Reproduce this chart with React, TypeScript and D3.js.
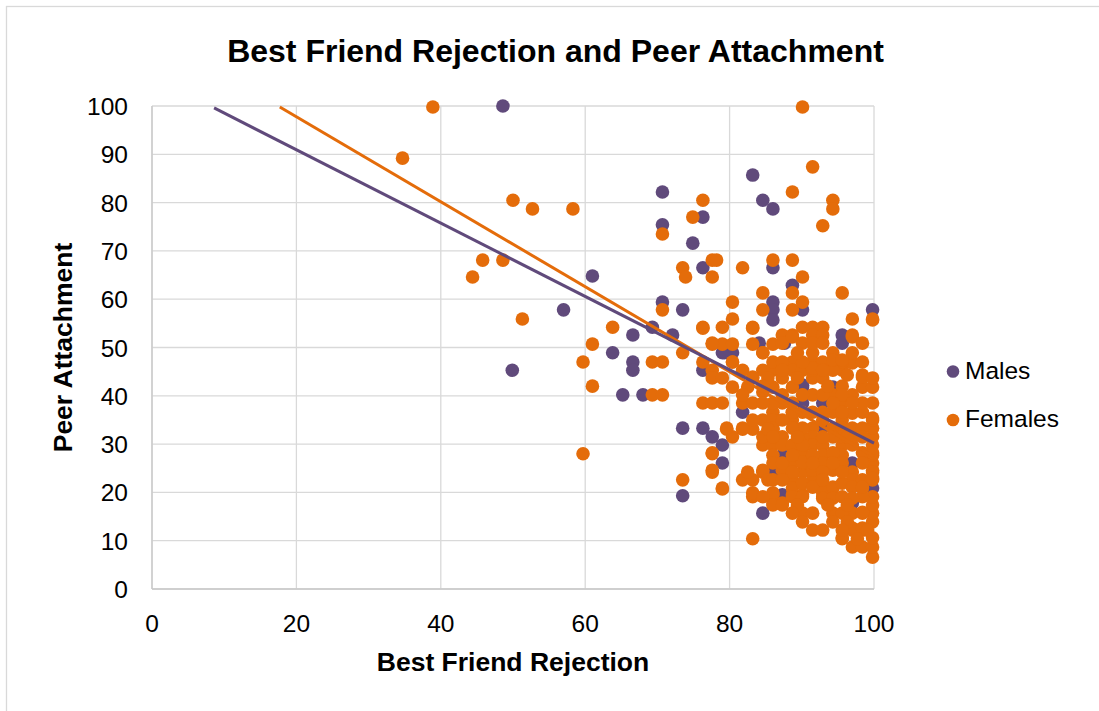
import * as d3 from "d3";

// points (Best Friend Rejection, Peer Attachment)
const males: [number, number][] = [
  [48.6, 100], [49.9, 45.3], [61, 64.8], [57, 57.8], [70.7, 82.2], [70.7, 75.4],
  [76.3, 77], [74.9, 71.6], [76.3, 66.5], [83.2, 85.7], [84.6, 80.5], [86, 78.7],
  [86, 66.5], [88.7, 62.9], [86, 59.4], [86, 57.8], [86, 55.7], [90.1, 57.8],
  [99.8, 57.8], [70.7, 59.4], [73.5, 57.8], [69.3, 54.2], [66.6, 52.6], [72.1, 52.6],
  [95.6, 52.6], [63.8, 48.9], [66.6, 47], [66.6, 45.3], [65.2, 40.2], [68, 40.2],
  [79, 48.9], [80.4, 48.9], [84.1, 50.9], [76.3, 45.3], [73.5, 33.3], [76.3, 33.3],
  [77.6, 31.5], [79, 29.8], [79, 26.1], [73.5, 19.3], [81.8, 36.6], [84.6, 15.7],
  [87.3, 19.5], [97, 17.8], [95.6, 50.9], [90.1, 42.2], [92.9, 38.5], [90.1, 38.5],
  [92.9, 33.5], [97, 26.1], [99.8, 20.9], [87.3, 27.7], [86, 24], [87.6, 50.9],
  [94.3, 41.8], [90.1, 41.8], [79.3, 48.9],
];

const females: [number, number][] = [
  [38.9, 99.8], [34.7, 89.2], [50, 80.5], [52.7, 78.7], [45.8, 68.1], [48.6, 68.1],
  [44.4, 64.6], [51.3, 55.9], [58.3, 78.7], [59.7, 28], [90.1, 99.8], [91.5, 87.4],
  [88.7, 82.2], [94.3, 80.5], [94.3, 78.7], [92.9, 75.2], [76.3, 80.5], [74.9, 77],
  [70.7, 73.5], [77.6, 68.1], [78.2, 68.1], [81.8, 66.5], [73.5, 66.5], [73.9, 64.6],
  [77.6, 64.6], [86, 68.1], [88.7, 68.1], [90.1, 64.6], [84.6, 61.3], [88.7, 61.3],
  [95.6, 61.3], [80.4, 59.4], [84.6, 57.8], [88.7, 57.8], [90.1, 59.4], [70.7, 57.8],
  [80.4, 55.9], [99.8, 55.9], [97, 55.9], [63.8, 54.2], [76.3, 54.2], [79, 54.2],
  [83.2, 54.2], [87.3, 52.6], [88.7, 52.6], [90.1, 54.2], [91.5, 54.2], [92.9, 54.2],
  [97, 52.6], [91.5, 52.6], [92.9, 52.6], [61, 50.7], [59.7, 47], [61, 42],
  [69.3, 47], [70.7, 47], [69.3, 40.2], [70.7, 40.2], [73.5, 48.9], [76.3, 47],
  [77.6, 50.7], [79, 50.7], [80.4, 50.7], [80.4, 47], [77.6, 45.3], [77.6, 43.7],
  [79, 43.7], [80.4, 41.8], [76.3, 38.5], [77.6, 38.5], [79, 38.5], [81.8, 38.5],
  [83.2, 38.5], [83.2, 43.7], [83.2, 50.7], [84.6, 48.9], [86, 50.7], [86, 45.3],
  [84.6, 35], [86, 36.6], [87.3, 38.5], [79.6, 33.1], [80.4, 31.5], [81.8, 33.1],
  [83.2, 33.1], [84.6, 29.8], [77.6, 28], [77.6, 24.2], [79, 20.9], [73.5, 22.6],
  [81.8, 22.6], [83.2, 22.6], [84.6, 24.2], [83.2, 19.1], [83.2, 10.4], [86, 19.5],
  [86, 17.8], [87.3, 17.8], [88.7, 19.5], [90.1, 19.5], [90.1, 15.7], [90.1, 13.9],
  [91.5, 15.7], [91.5, 12.2], [92.9, 12.2], [94.3, 15.7], [95.6, 10.4], [97, 8.7],
  [97, 12.2], [98.4, 8.7], [99.8, 6.6], [99.8, 8.7], [98.4, 12.2], [97, 15.7],
  [99.8, 13.9], [99.8, 15.7], [99.8, 17.4], [99.8, 19.1], [99.8, 22.6], [99.8, 24.6],
  [99.8, 26.1], [99.8, 27.7], [99.8, 29.8], [99.8, 31.5], [99.8, 33.3], [99.8, 35],
  [99.8, 38.5], [98.4, 41.8], [98.4, 44.3], [97, 46.8], [95.6, 45.3], [95.6, 47],
  [94.3, 47], [94.3, 45.3], [94.3, 40.2], [95.6, 42], [97, 40.2], [97, 36.6],
  [95.6, 38.5], [95.6, 35], [94.3, 36.6], [92.9, 35], [91.5, 33.3], [91.5, 31.5],
  [91.5, 29.8], [92.9, 29.8], [92.9, 27.7], [95.6, 29.8], [95.6, 27.7], [95.6, 26.1],
  [97, 24.2], [97, 22.6], [98.4, 20.9], [98.4, 19.1], [98.4, 15.7], [94.3, 20.9],
  [94.3, 19.1], [92.9, 19.1], [92.9, 20.9], [91.5, 22.6], [90.1, 24.2], [90.1, 26.1],
  [90.1, 27.7], [88.7, 26.1], [88.7, 29.4], [87.3, 24.6], [90.1, 31.5], [90.1, 33.3],
  [88.7, 35], [88.7, 33.3], [87.3, 31.5], [86, 29.8], [86, 33.1], [88.7, 36.6],
  [91.5, 40.2], [88.7, 41.8], [87.3, 43.7], [88.7, 47], [88.7, 45.3], [90.1, 45.3],
  [91.5, 47], [91.5, 43.7], [92.9, 43.7], [92.9, 47], [94.3, 48.9], [91.5, 48.9],
  [91.5, 45.3], [97, 48.9], [97, 52.2], [84.6, 45.3], [86, 41.8], [87.3, 40.2],
  [86, 35], [84.6, 31.5], [86, 27.7], [88.7, 22.6], [86, 26.1], [87.3, 50.9],
  [88.7, 52.2], [90.1, 50.9], [91.5, 50.9], [92.9, 50.9], [99.8, 55.7], [76.3, 54],
  [83.2, 54], [77.6, 50.9], [84.6, 48.9], [80.4, 47], [86, 45.7], [94.3, 47.4],
  [95.6, 47.4], [91.5, 45.7], [98.4, 43.9], [83.2, 43.9], [84.6, 40.8], [88.7, 36.6],
  [90.1, 36.6], [91.5, 36.6], [95.6, 40.2], [97, 36.4], [99.8, 35.4], [79.6, 33.3],
  [81.8, 33.3], [86, 33.3], [94.3, 33.3], [95.6, 33.3], [97, 33.3], [98.4, 33.3],
  [87.3, 29.8], [88.7, 29.8], [90.1, 28.2], [94.3, 28.2], [97, 29.8], [98.4, 28.2],
  [99.8, 28.2], [77.6, 28.2], [77.6, 24.6], [84.6, 24.6], [87.3, 26.1], [88.7, 24.2],
  [90.1, 26.3], [91.5, 24.6], [92.9, 26.1], [94.3, 24.6], [98.4, 22.6], [99.8, 24.2],
  [83.2, 19.9], [86, 19.9], [88.7, 20.9], [90.1, 21.9], [91.5, 21.1], [92.9, 19.9],
  [94.3, 21.1], [95.6, 21.9], [97, 21.1], [98.4, 21.1], [99.8, 22.9], [79, 20.7],
  [86, 17.4], [87.3, 17.4], [88.7, 19.1], [90.1, 19.1], [92.9, 18.8], [94.3, 18.8],
  [95.6, 10.6], [97, 12.6], [98.4, 12.6], [99.8, 10.6], [98.4, 15.9], [97, 18.8],
  [95.6, 15.7], [95.6, 19.1], [95.6, 24.2], [95.6, 31.5], [97, 31.5], [98.4, 31.5],
  [98.4, 26.1], [98.4, 36.6], [98.4, 38.5], [97, 38.5], [94.3, 38.5], [92.9, 40.2],
  [92.9, 36.6], [94.3, 31.5], [92.9, 31.5], [92.9, 24.2], [92.9, 22.6], [94.3, 26.1],
  [95.6, 36.6], [98.4, 47], [98.4, 50.9], [99.8, 41.8], [99.8, 43.7], [91.5, 27.7],
  [91.5, 26.1], [90.1, 29.8], [88.7, 27.7], [89.4, 31.5], [88.7, 38.5], [90.1, 40.2],
  [86, 38.5], [84.6, 38.5], [85.3, 43.7], [84.6, 42], [82.5, 41.8], [81.8, 45.3],
  [81.8, 40.2], [83.2, 35], [85.3, 33.1], [86, 31.5], [87.3, 35], [89.4, 43.7],
  [90.1, 47], [89.4, 48.9], [86, 47], [87.3, 47], [87.3, 45.3], [92.9, 45.3],
  [93.6, 42], [96.3, 44.3], [96.3, 31.5], [96.3, 17.4], [96.3, 13.9], [95.6, 12.2],
  [94.3, 13.9], [93.6, 17.4], [97.7, 10.4], [99.1, 12.2], [89.4, 17.4], [88.7, 15.7],
  [84.6, 19.1], [85.3, 22.6], [86, 22.6], [87.3, 22.6], [82.5, 24.2],
];

// linear trendline ends (as drawn in the reference)
const maleTrend: [number, number][] = [[8.6, 99.6], [100, 30.2]];
const femaleTrend: [number, number][] = [[17.7, 99.8], [100, 27.4]];

const xTicks = [0, 20, 40, 60, 80, 100];
const yTicks = [0, 10, 20, 30, 40, 50, 60, 70, 80, 90, 100];
const seriesNames = ["Males", "Females"];

const PURPLE = "#604a7b";
const ORANGE = "#e46c0a";
const GRID = "#d9d9d9";
const FONT = "'Liberation Sans', Arial, sans-serif";

const W = 1099;
const H = 711;
const plot = { left: 152, right: 874, top: 106, bottom: 589 };

export default function App() {
  const x = d3.scaleLinear().domain([0, 100]).range([plot.left, plot.right]);
  const y = d3.scaleLinear().domain([0, 100]).range([plot.bottom, plot.top]);
  const line = d3
    .line<[number, number]>()
    .x((d) => x(d[0]))
    .y((d) => y(d[1]));
  const colors = [PURPLE, ORANGE];

  return (
    <svg
      width={W}
      height={H}
      style={{ position: "absolute", left: 0, top: 0, background: "#fff" }}
      fontFamily={FONT}
    >
      <rect x={6.5} y={6.5} width={W + 20} height={H + 20} fill="#fff" stroke={GRID} strokeWidth={1.3} />

      <text x={555.5} y={62} textAnchor="middle" fontSize={32} fontWeight="bold" fill="#000">
        Best Friend Rejection and Peer Attachment
      </text>

      {/* grid */}
      {yTicks.map((t) => (
        <line key={"gy" + t} x1={plot.left} x2={plot.right} y1={y(t)} y2={y(t)} stroke={GRID} strokeWidth={1.3} />
      ))}
      {xTicks.map((t) => (
        <line key={"gx" + t} x1={x(t)} x2={x(t)} y1={plot.top} y2={plot.bottom} stroke={GRID} strokeWidth={1.3} />
      ))}
      <line x1={plot.left} x2={plot.left} y1={plot.top} y2={plot.bottom} stroke="#c8c8c8" strokeWidth={1.3} />
      <line x1={plot.left} x2={plot.right} y1={plot.bottom} y2={plot.bottom} stroke="#c8c8c8" strokeWidth={1.3} />

      {/* tick labels */}
      {yTicks.map((t) => (
        <text key={"ly" + t} x={128} y={y(t) + 9} textAnchor="end" fontSize={24.5} fill="#000">
          {t}
        </text>
      ))}
      {xTicks.map((t) => (
        <text key={"lx" + t} x={x(t)} y={632} textAnchor="middle" fontSize={24.5} fill="#000">
          {t}
        </text>
      ))}

      {/* axis titles */}
      <text x={(plot.left + plot.right) / 2} y={671} textAnchor="middle" fontSize={26.5} fontWeight="bold" fill="#000">
        Best Friend Rejection
      </text>
      <text
        transform={`translate(72, ${(plot.top + plot.bottom) / 2}) rotate(-90)`}
        textAnchor="middle"
        fontSize={26.5}
        fontWeight="bold"
        fill="#000"
      >
        Peer Attachment
      </text>

      {/* points */}
      <g fill={PURPLE}>
        {males.map((d, i) => (
          <circle key={"m" + i} cx={x(d[0])} cy={y(d[1])} r={6.8} />
        ))}
      </g>
      <g fill={ORANGE}>
        {females.map((d, i) => (
          <circle key={"f" + i} cx={x(d[0])} cy={y(d[1])} r={6.8} />
        ))}
      </g>

      {/* trendlines */}
      <path d={line(femaleTrend) ?? ""} fill="none" stroke={ORANGE} strokeWidth={3} />
      <path d={line(maleTrend) ?? ""} fill="none" stroke={PURPLE} strokeWidth={3} />

      {/* legend */}
      {seriesNames.map((name, i) => (
        <g key={name} transform={`translate(953, ${371.5 + i * 48.5})`}>
          <circle r={6.3} fill={colors[i]} />
          <text x={12} y={7} fontSize={24.5} fill="#000">
            {name}
          </text>
        </g>
      ))}
    </svg>
  );
}
